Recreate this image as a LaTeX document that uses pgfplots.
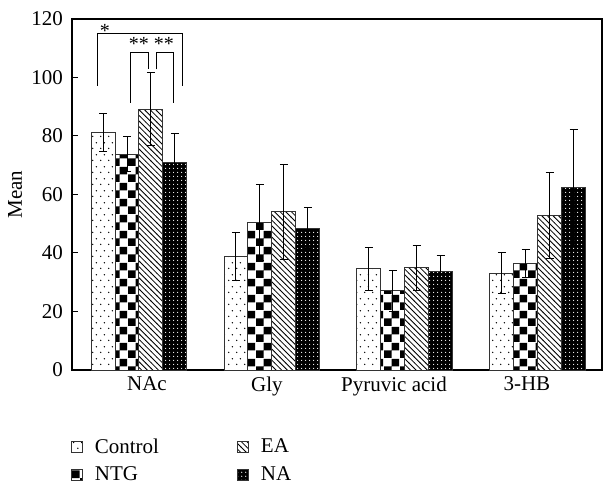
\documentclass[border=0pt]{standalone}
\usepackage{fontspec}
\setmainfont{Liberation Serif}
\usepackage{pgfplots}
\pgfplotsset{compat=1.18}
\usetikzlibrary{patterns}

\pgfdeclarepatternformonly{sdots}{\pgfqpoint{0pt}{0pt}}{\pgfqpoint{3.8pt}{6pt}}{\pgfqpoint{3.8pt}{6pt}}{%
  \pgfpathcircle{\pgfqpoint{0.9pt}{0.9pt}}{0.4pt}%
  \pgfpathcircle{\pgfqpoint{2.8pt}{3.9pt}}{0.4pt}%
  \pgfusepath{fill}}
\pgfdeclarepatternformonly{checker}{\pgfqpoint{0pt}{0pt}}{\pgfqpoint{8pt}{8pt}}{\pgfqpoint{8pt}{8pt}}{%
  \pgfpathrectangle{\pgfqpoint{0pt}{0pt}}{\pgfqpoint{4pt}{4pt}}%
  \pgfpathrectangle{\pgfqpoint{4pt}{4pt}}{\pgfqpoint{4pt}{4pt}}%
  \pgfusepath{fill}}
\pgfdeclarepatternformonly{wdots}{\pgfqpoint{0pt}{0pt}}{\pgfqpoint{2pt}{2pt}}{\pgfqpoint{2pt}{2pt}}{%
  \pgfpathcircle{\pgfqpoint{1pt}{1pt}}{0.36pt}%
  \pgfusepath{fill}}
\pgfdeclarepatternformonly{nwlines}{\pgfqpoint{-1pt}{-1pt}}{\pgfqpoint{4pt}{4pt}}{\pgfqpoint{2.8pt}{2.8pt}}{%
  \pgfsetlinewidth{0.4pt}%
  \pgfpathmoveto{\pgfqpoint{-0.1pt}{2.9pt}}%
  \pgfpathlineto{\pgfqpoint{2.9pt}{-0.1pt}}%
  \pgfusepath{stroke}}

\pgfplotstableread{
x y e
0 81.3 6.5
1 38.7 8.2
2 34.6 7.3
3 33.0 7.0
}\control
\pgfplotstableread{
x y e
0 73.7 6.0
1 50.4 13.1
2 27.1 7.0
3 36.5 4.8
}\ntg
\pgfplotstableread{
x y e
0 89.1 12.5
1 54.1 16.3
2 35.0 7.7
3 52.8 14.7
}\ea
\pgfplotstableread{
x y e
0 71.0 10.0
1 48.5 7.1
2 33.6 5.6
3 62.3 20.0
}\na

\begin{document}
\begin{tikzpicture}
\begin{axis}[
  scale only axis,
  width=265pt, height=175.5pt,
  ybar=0pt, bar width=0.18,
  xmin=-0.504, xmax=3.484,
  ymin=0, ymax=120,
  ytick={0,20,...,120},
  xtick={0.06,0.963,1.919,2.919},
  xticklabels={NAc,Gly,Pyruvic acid,3-HB},
  major x tick style={draw=none},
  extra x ticks={0.459,1.43,2.40},
  extra x tick labels={},
  extra x tick style={tick style={black}, major tick length=2pt},
  tick align=inside,
  xtick pos=bottom, ytick pos=left,
  major tick length=3pt,
  tick style={black, line width=0.5pt},
  axis line style={line width=0.6pt},
  /pgf/number format/assume math mode=true,
  tick label style={font=\fontsize{10.5pt}{12pt}\selectfont},
  yticklabel style={xshift=-1pt},
  ylabel={Mean},
  ylabel style={at={(rel axis cs:0,0.5)}, anchor=center, yshift=28.5pt, font=\fontsize{10.5pt}{12pt}\selectfont},
  clip=false,
  error bars/y dir=both, error bars/y explicit,
  error bars/error bar style={line width=0.5pt, black},
  error bars/error mark options={rotate=90, mark size=2pt, line width=0.5pt},
  legend columns=2,
  transpose legend,
  legend cell align=left,
  legend style={draw=none, at={(rel axis cs:0,0)}, anchor=north west, yshift=-31.8pt, xshift=-1pt,
    font=\fontsize{10.5pt}{12pt}\selectfont, row sep=1.2pt, inner sep=0.5pt, outer sep=0pt,
    /tikz/every odd column/.append style={column sep=4pt},
    /tikz/every even column/.append style={column sep=37pt}},
  legend image code/.code={\draw[#1, line width=0.45pt] (0pt,-2.75pt) rectangle (5.5pt,2.75pt);},
]
\addplot[draw=black!80, line width=0.5pt, fill=white, postaction={pattern=sdots}] table[x=x,y=y,y error=e]{\control};
\addplot[draw=black!80, line width=0.5pt, fill=white, postaction={pattern=checker}] table[x=x,y=y,y error=e]{\ntg};
\addplot[draw=black!80, line width=0.5pt, fill=white, postaction={pattern=nwlines}] table[x=x,y=y,y error=e]{\ea};
\addplot[draw=black!80, line width=0.5pt, fill=black, postaction={pattern=wdots, pattern color=white}] table[x=x,y=y,y error=e]{\na};
\legend{Control,NTG,EA,NA}
\draw[line width=0.5pt] (axis cs:-0.314,97.1) -- (axis cs:-0.314,114.9) -- (axis cs:0.324,114.9) -- (axis cs:0.324,97.1);
\draw[line width=0.5pt] (axis cs:-0.062,91.4) -- (axis cs:-0.062,108.6) -- (axis cs:0.070,108.6) -- (axis cs:0.070,102.8);
\draw[line width=0.5pt] (axis cs:0.133,102.8) -- (axis cs:0.133,108.6) -- (axis cs:0.256,108.6) -- (axis cs:0.256,91.4);
\node[inner sep=0pt] at (axis cs:-0.256,115.8) {*};
\node[inner sep=0pt] at (axis cs:0.0,111.6) {**};
\node[inner sep=0pt] at (axis cs:0.188,111.6) {**};
\coordinate (bl) at (rel axis cs:0,0);
\coordinate (tr) at (rel axis cs:1,1);
\end{axis}
\pgfresetboundingbox
\path[use as bounding box] ([xshift=-36pt,yshift=-58pt]bl) rectangle ([xshift=1pt,yshift=9.5pt]tr);
\end{tikzpicture}
\end{document}
